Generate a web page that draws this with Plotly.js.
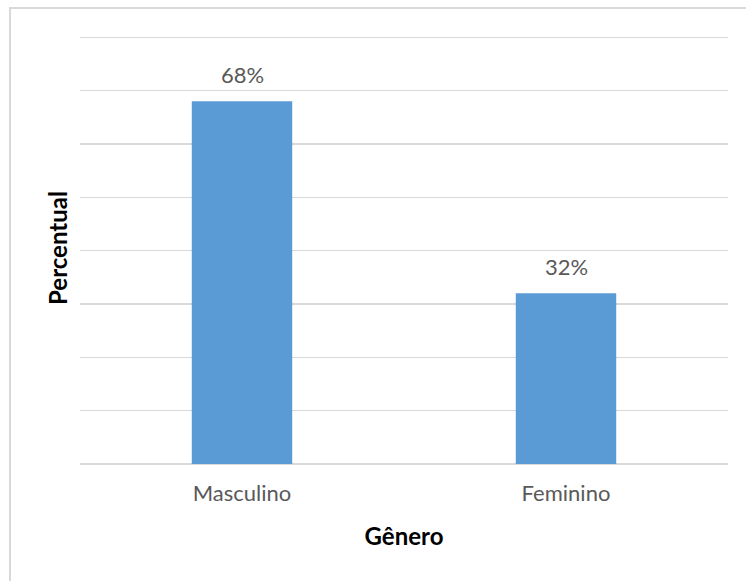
<!DOCTYPE html>
<html>
<head>
<meta charset="utf-8">
<script src="https://cdn.plot.ly/plotly-3.0.1.min.js"></script>
<style>
html,body{margin:0;padding:0;width:746px;height:581px;overflow:hidden;background:#fff;}
#frame{position:absolute;left:9px;top:7px;width:800px;height:700px;border:2px solid #d9d9d9;box-sizing:border-box;}
#chart{position:absolute;left:0;top:0;width:746px;height:581px;}
</style>
</head>
<body>
<div id="frame"></div>
<div id="chart"></div>
<script>
const categories = ["Masculino", "Feminino"];
const values = [68, 32];
const valueLabels = ["68%", "32%"];
const xTitle = "Gênero";
const yTitle = "Percentual";

const FONT = "Lato, 'Open Sans', sans-serif";

const trace = {
  type: "bar",
  x: categories,
  y: values,
  marker: {color: "#5b9bd5"},
  hoverinfo: "skip"
};

const annotations = categories.map((c, i) => ({
  x: c, y: values[i], xref: "x", yref: "y",
  text: valueLabels[i], showarrow: false,
  yanchor: "bottom", yshift: 11,
  font: {family: FONT, size: 22, color: "#595959"}
}));

const layout = {
  width: 746, height: 581,
  paper_bgcolor: "rgba(0,0,0,0)",
  plot_bgcolor: "rgba(0,0,0,0)",
  margin: {l: 80, r: 18, t: 32, b: 117},
  bargap: 0.69,
  showlegend: false,
  xaxis: {
    type: "category",
    showline: false, ticks: "",
    ticklabelstandoff: 14,
    tickfont: {family: FONT, size: 22, color: "#595959"},
    title: {text: xTitle, standoff: 23, font: {family: FONT, size: 24, color: "#000", weight: "bold"}}
  },
  yaxis: {
    range: [0, 81], dtick: 10, tick0: 0,
    showticklabels: false, ticks: "",
    showgrid: true, gridcolor: "#d9d9d9", gridwidth: 1.5,
    zeroline: true, zerolinecolor: "#d9d9d9", zerolinewidth: 1.5,
    showline: false,
    title: {text: yTitle, standoff: 4, font: {family: FONT, size: 24, color: "#000", weight: "bold"}}
  },
  annotations: annotations
};

Plotly.newPlot("chart", [trace], layout, {displayModeBar: false, staticPlot: true});
</script>
</body>
</html>
